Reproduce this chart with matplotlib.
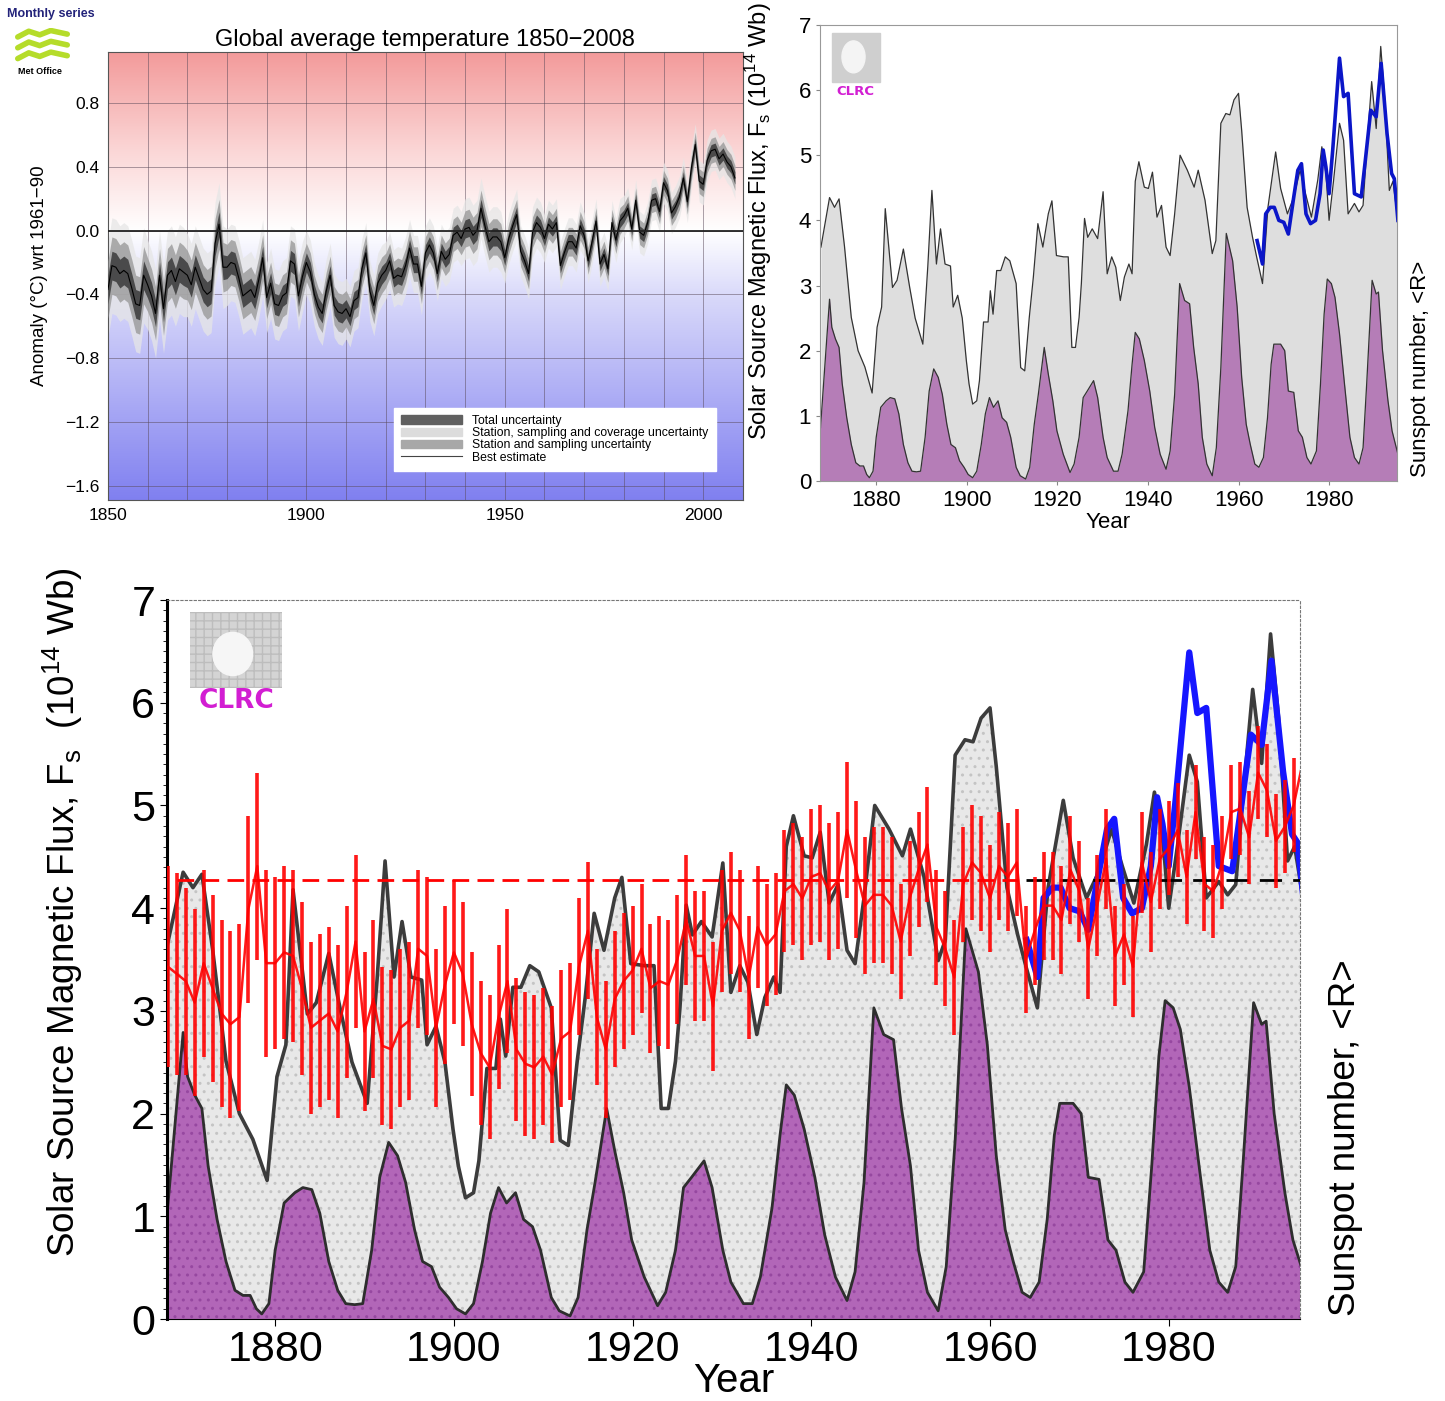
import matplotlib.pyplot as plt
import numpy as np
from matplotlib.colors import LinearSegmentedColormap
from matplotlib.patches import Patch, Rectangle, Ellipse
from matplotlib.lines import Line2D

plt.rcParams['font.family'] = ['Liberation Sans', 'DejaVu Sans']

# ---- global temperature (annual means)
temp_years = np.arange(1850, 2009)
temp_anom = [
    -0.37, -0.22, -0.23, -0.27, -0.25, -0.27, -0.36, -0.46, -0.47, -0.28,
    -0.34, -0.41, -0.52, -0.28, -0.49, -0.28, -0.25, -0.32, -0.24, -0.26,
    -0.28, -0.34, -0.23, -0.30, -0.37, -0.40, -0.38, -0.08, 0.04, -0.23,
    -0.23, -0.20, -0.21, -0.30, -0.41, -0.39, -0.37, -0.42, -0.31, -0.17,
    -0.42, -0.33, -0.46, -0.47, -0.41, -0.39, -0.19, -0.21, -0.41, -0.29,
    -0.20, -0.26, -0.40, -0.48, -0.52, -0.38, -0.28, -0.47, -0.51, -0.52,
    -0.49, -0.54, -0.44, -0.42, -0.24, -0.14, -0.38, -0.47, -0.33, -0.28,
    -0.25, -0.19, -0.30, -0.28, -0.29, -0.22, -0.11, -0.21, -0.21, -0.35,
    -0.14, -0.09, -0.14, -0.27, -0.13, -0.18, -0.15, -0.03, -0.01, -0.05,
    0.01, 0.02, -0.03, 0.00, 0.14, 0.03, -0.07, -0.04, -0.04, -0.07,
    -0.17, -0.05, 0.03, 0.10, -0.13, -0.19, -0.27, -0.01, 0.05, 0.02,
    -0.05, 0.04, 0.01, 0.05, -0.22, -0.14, -0.07, -0.07, -0.11, 0.03,
    -0.03, -0.19, -0.07, 0.06, -0.21, -0.15, -0.24, 0.05, -0.06, 0.06,
    0.09, 0.14, 0.01, 0.19, -0.01, -0.03, 0.05, 0.19, 0.20, 0.12,
    0.30, 0.25, 0.11, 0.15, 0.21, 0.33, 0.18, 0.39, 0.54, 0.31,
    0.29, 0.44, 0.50, 0.51, 0.45, 0.48, 0.43, 0.40, 0.33,
]
# half-width of total uncertainty for each decade 1850s..2000s
unc_decade = [0.30, 0.28, 0.26, 0.24, 0.22, 0.20, 0.19, 0.18, 0.17, 0.19,
              0.16, 0.15, 0.14, 0.13, 0.13, 0.13]

# ---- solar source magnetic flux (1e14 Wb)
flux_years = [1867.8, 1869.7, 1870.8, 1871.8, 1873.0, 1874.5, 1876.0, 1877.5,
              1879.1, 1880.2, 1881.2, 1882.0, 1883.6, 1884.6, 1886.0, 1887.4,
              1888.6, 1890.3, 1891.4, 1892.3, 1893.3, 1894.2, 1895.2, 1896.4,
              1897.0, 1898.0, 1899.0, 1899.9, 1900.5, 1901.3, 1902.2, 1902.8,
              1903.7, 1904.7, 1905.2, 1905.8, 1906.6, 1907.5, 1908.5, 1909.5,
              1910.9, 1911.9, 1912.8, 1913.8, 1914.7, 1915.7, 1916.8, 1918.0,
              1918.8, 1919.8, 1921.4, 1922.4, 1923.2, 1924.0, 1924.8, 1925.3,
              1926.0, 1926.7, 1927.7, 1928.9, 1930.1, 1931.0, 1932.0, 1932.9,
              1933.9, 1934.8, 1935.8, 1936.5, 1937.2, 1938.0, 1939.2, 1940.1,
              1941.0, 1942.0, 1943.0, 1944.0, 1944.9, 1945.9, 1947.1, 1948.7,
              1950.2, 1951.1, 1952.6, 1954.2, 1955.0, 1956.1, 1957.2, 1958.1,
              1959.0, 1960.0, 1960.7, 1961.9, 1963.1, 1964.0, 1965.3, 1966.5,
              1968.2, 1969.3, 1970.8, 1972.2, 1973.6, 1974.8, 1976.1, 1977.5,
              1978.4, 1979.3, 1980.0, 1981.0, 1982.3, 1983.2, 1984.2, 1985.6,
              1986.6, 1987.5, 1988.3, 1989.4, 1990.4, 1991.4, 1992.3, 1993.3,
              1994.1, 1995.2]
flux = [3.59, 4.35, 4.20, 4.33, 3.60, 2.51, 2.00, 1.75,
        1.35, 2.36, 2.67, 4.18, 2.97, 3.08, 3.56, 2.97,
        2.50, 2.10, 3.30, 4.46, 3.33, 3.87, 3.33, 3.30,
        2.67, 2.85, 2.50, 1.85, 1.49, 1.18, 1.23, 1.54,
        2.44, 2.44, 2.92, 2.56, 3.23, 3.23, 3.44, 3.38,
        3.03, 1.74, 1.69, 2.51, 3.13, 3.95, 3.59, 4.10,
        4.30, 3.46, 3.44, 3.44, 2.05, 2.05, 2.51, 3.03,
        4.03, 3.74, 3.87, 3.72, 4.44, 3.18, 3.44, 3.28,
        2.77, 3.13, 3.33, 3.18, 4.60, 4.90, 4.51, 4.49,
        4.74, 4.05, 4.23, 3.59, 3.46, 4.10, 5.00, 4.77,
        4.51, 4.77, 4.31, 3.49, 3.69, 5.49, 5.64, 5.62,
        5.85, 5.95, 5.38, 4.20, 3.74, 3.44, 3.03, 4.20,
        5.05, 4.49, 4.10, 4.36, 4.77, 4.41, 4.05, 4.62,
        5.13, 4.72, 4.00, 4.62, 5.49, 5.23, 4.10, 4.26,
        4.13, 4.23, 5.08, 6.13, 5.41, 6.67, 5.85, 4.46,
        4.60, 4.00]

# ---- recent flux estimate (blue)
blue_years = [1964.1, 1965.3, 1966.0, 1967.0, 1967.9, 1968.9, 1970.0, 1971.0,
              1972.2, 1973.1, 1973.9, 1974.9, 1975.9, 1977.0, 1978.0, 1978.7,
              1979.3, 1980.0, 1980.8, 1982.3, 1983.2, 1984.2, 1985.6, 1987.1,
              1988.0, 1989.2, 1990.4, 1991.5, 1992.8, 1993.8, 1994.4, 1995.2]
blue_flux = [3.69, 3.33, 4.10, 4.20, 4.20, 4.00, 3.97, 3.79,
             4.36, 4.77, 4.87, 4.10, 3.95, 4.00, 4.41, 5.08,
             4.82, 4.41, 5.08, 6.49, 5.90, 5.95, 4.41, 4.36,
             4.92, 5.69, 5.59, 6.41, 5.33, 4.72, 4.64, 4.00]

# ---- sunspot number, drawn on the flux scale
ssn_years = [1867.7, 1869.7, 1870.2, 1871.0, 1871.8, 1872.5, 1873.5, 1874.5,
             1875.5, 1876.4, 1877.2, 1877.9, 1878.5, 1879.3, 1880.0, 1881.0,
             1882.2, 1883.1, 1884.1, 1885.0, 1886.0, 1887.0, 1887.9, 1888.9,
             1889.8, 1890.8, 1891.7, 1892.7, 1893.7, 1894.6, 1895.6, 1896.5,
             1897.5, 1898.4, 1899.4, 1900.3, 1901.3, 1902.2, 1903.2, 1904.1,
             1905.0, 1905.9, 1906.9, 1907.8, 1908.8, 1909.7, 1910.9, 1911.8,
             1913.0, 1913.9, 1914.9, 1915.8, 1917.1, 1918.0, 1919.0, 1919.9,
             1921.3, 1922.8, 1923.7, 1924.8, 1925.7, 1926.6, 1928.0, 1928.9,
             1930.1, 1931.0, 1932.4, 1933.4, 1934.3, 1935.6, 1936.5, 1937.2,
             1938.1, 1939.2, 1940.4, 1941.5, 1942.7, 1944.0, 1944.9, 1945.9,
             1947.0, 1948.1, 1949.2, 1950.1, 1951.1, 1952.0, 1953.0, 1954.2,
             1955.1, 1956.1, 1957.3, 1958.7, 1959.7, 1960.7, 1961.7, 1962.6,
             1963.6, 1964.5, 1965.5, 1966.4, 1967.2, 1967.8, 1969.3, 1970.2,
             1971.0, 1972.2, 1973.2, 1974.1, 1975.1, 1976.0, 1977.2, 1978.1,
             1978.9, 1979.6, 1980.5, 1981.3, 1982.3, 1983.4, 1984.6, 1985.6,
             1986.6, 1987.5, 1988.3, 1989.5, 1990.4, 1990.9, 1991.8, 1993.0,
             1993.9, 1995.2]
ssn = [0.82, 2.79, 2.36, 2.18, 2.05, 1.49, 0.97, 0.56,
       0.28, 0.23, 0.23, 0.10, 0.05, 0.15, 0.67, 1.13,
       1.23, 1.28, 1.26, 1.03, 0.56, 0.28, 0.15, 0.14,
       0.15, 0.67, 1.38, 1.72, 1.59, 1.33, 0.87, 0.56,
       0.51, 0.31, 0.21, 0.10, 0.05, 0.15, 0.56, 1.03,
       1.28, 1.13, 1.23, 0.97, 0.90, 0.67, 0.21, 0.08,
       0.03, 0.21, 0.87, 1.33, 2.05, 1.64, 1.23, 0.77,
       0.41, 0.13, 0.26, 0.67, 1.28, 1.38, 1.54, 1.28,
       0.67, 0.36, 0.15, 0.15, 0.41, 1.08, 1.79, 2.28,
       2.18, 1.85, 1.38, 0.82, 0.41, 0.18, 0.46, 1.33,
       3.03, 2.77, 2.72, 2.05, 1.49, 0.67, 0.26, 0.08,
       0.51, 1.74, 3.80, 3.38, 2.67, 1.59, 0.87, 0.56,
       0.26, 0.21, 0.36, 0.97, 1.79, 2.10, 2.10, 2.00,
       1.38, 1.36, 0.77, 0.67, 0.36, 0.26, 0.46, 1.49,
       2.56, 3.10, 3.03, 2.82, 2.26, 1.49, 0.67, 0.36,
       0.26, 0.51, 1.49, 3.08, 2.87, 2.90, 2.00, 1.23,
       0.77, 0.41]

unc_total = np.repeat(unc_decade, 10)[:len(temp_years)]
temp = np.array(temp_anom)

fig = plt.figure(figsize=(14.45, 14.01), dpi=100)

# ================= top left: global temperature =================
ax1 = fig.add_axes([0.0747, 0.6431, 0.4394, 0.3198])
ylo, yhi = -1.69, 1.12
bg = LinearSegmentedColormap.from_list(
    'bg', [(0, '#8080f0'), (0.45, '#d8d8fa'), (0.60, '#ffffff'),
           (0.78, '#fbd6d6'), (1, '#f39a9a')])
ax1.imshow(np.linspace(0, 1, 256).reshape(-1, 1), extent=[1850, 2010, ylo, yhi],
           origin='lower', aspect='auto', cmap=bg, zorder=0)
ax1.set_xlim(1850, 2010)
ax1.set_ylim(ylo, yhi)
ax1.set_xticks([1850, 1900, 1950, 2000])
ax1.set_xticks(np.arange(1850, 2011, 10), minor=True)
ax1.set_yticks([-1.6, -1.2, -0.8, -0.4, 0.0, 0.4, 0.8])
ax1.set_yticklabels(['\u22121.6', '\u22121.2', '\u22120.8', '\u22120.4', '0.0', '0.4', '0.8'])
ax1.grid(which='both', color='#5a4a5a', lw=0.6, alpha=0.6, zorder=1)
ax1.tick_params(which='both', length=0, labelsize=12.5, pad=6)
ax1.fill_between(temp_years, temp - unc_total, temp + unc_total,
                 color='#e6e6e6', alpha=0.75, lw=0, zorder=2)
ax1.fill_between(temp_years, temp - 0.6 * unc_total, temp + 0.6 * unc_total,
                 color='#9a9a9a', alpha=0.8, lw=0, zorder=3)
ax1.fill_between(temp_years, temp - 0.3 * unc_total, temp + 0.3 * unc_total,
                 color='#3a3a3a', alpha=0.85, lw=0, zorder=4)
ax1.plot(temp_years, temp, color='black', lw=0.8, zorder=5)
ax1.axhline(0, color='#222222', lw=1.3, zorder=6)
for s in ax1.spines.values():
    s.set_color('#555555')
ax1.set_title('Global average temperature 1850\u22122008', fontsize=17, pad=4)
ax1.set_ylabel('Anomaly (\u00b0C) wrt 1961\u221290', fontsize=13.5)
ax1.yaxis.set_label_coords(-0.095, 0.5)
handles = [Patch(color='#606060'), Patch(color='#dcdcdc'), Patch(color='#a8a8a8'),
           Line2D([], [], color='#444444', lw=0.8)]
labels = ['Total uncertainty', 'Station, sampling and coverage uncertainty',
          'Station and sampling uncertainty', 'Best estimate']
leg = ax1.legend(handles, labels, loc='lower right', bbox_to_anchor=(0.967, 0.051),
                 fontsize=8.8, handlelength=5, labelspacing=0.02, borderpad=0.6,
                 fancybox=False, framealpha=1, edgecolor='white')
leg.set_zorder(10)

fig.text(0.005, 0.994, 'Monthly series', fontsize=9, fontweight='bold',
         color='#23237a', va='top')
logo = fig.add_axes([15 / 1445, 1 - 64 / 1401, 55 / 1445, 36 / 1401])
logo.set_xlim(0, 10)
logo.set_ylim(0, 10)
logo.axis('off')
for yy in [1.5, 4.5, 7.5]:
    logo.plot([0.5, 2.5, 4.5, 6.5, 9.5], [yy, yy + 1.6, yy + 0.6, yy + 1.8, yy + 0.8],
              color='#b5dc2a', lw=4, solid_capstyle='round')
fig.text(40 / 1445, 1 - 72 / 1401, 'Met Office', fontsize=6.5, fontweight='bold',
         ha='center', va='center')

# ================= top right: solar flux =================
ax2 = fig.add_axes([0.5675, 0.6567, 0.3993, 0.3255])
ax2.set_xlim(1867.6, 1995)
ax2.set_ylim(0, 7)
ax2.fill_between(flux_years, 0, flux, color='#dedede', lw=0)
ax2.plot(flux_years, flux, color='#333333', lw=0.9)
ax2.fill_between(ssn_years, 0, ssn, color='#b57db7', lw=0)
ax2.plot(ssn_years, ssn, color='#333333', lw=0.9)
ax2.plot(blue_years, blue_flux, color='#0b16c8', lw=2.6)
ax2.set_xticks([1880, 1900, 1920, 1940, 1960, 1980])
ax2.set_yticks(range(8))
ax2.tick_params(labelsize=16, length=3, color='#888888')
for s in ax2.spines.values():
    s.set_color('#999999')
ax2.set_xlabel('Year', fontsize=16, labelpad=1)
ax2.set_ylabel('Solar Source Magnetic Flux, F$_\\mathregular{s}$ (10$^\\mathregular{14}$ Wb)',
               fontsize=17)
ax2.yaxis.set_label_coords(-0.08, 0.57)
fig.text(0.983, 0.737, 'Sunspot number, <R>', rotation=90, fontsize=16,
         ha='center', va='center')
ax2.add_patch(Rectangle((0.021, 0.875), 0.083, 0.107, transform=ax2.transAxes,
                        color='#cfcfcf', zorder=5))
ax2.add_patch(Ellipse((0.058, 0.93), 0.04, 0.07, transform=ax2.transAxes,
                      color='#f4f4f4', zorder=6))
ax2.text(0.062, 0.855, 'CLRC', transform=ax2.transAxes, fontsize=9.5,
         fontweight='bold', family='DejaVu Sans', color='#d21ed2',
         ha='center', va='center', zorder=6)

# ================= bottom: flux with temperature overlay =================
ax3 = fig.add_axes([0.1156, 0.0585, 0.7841, 0.5132])
ax3.set_xlim(1867.9, 1994.7)
ax3.set_ylim(0, 7)
ax3.fill_between(flux_years, 0, flux, facecolor='#e8e8e8', hatch='..',
                 edgecolor='#c4c4c4', lw=0)
ax3.plot(flux_years, flux, color='#3c3c3c', lw=2.6)
ax3.fill_between(ssn_years, 0, ssn, facecolor='#b266b8', hatch='..',
                 edgecolor='#9648a0', lw=0)
ax3.plot(ssn_years, ssn, color='#2e2e2e', lw=2.0)
ax3.plot(blue_years, blue_flux, color='#1616ff', lw=4.5)
ax3.set_xticks([1880, 1900, 1920, 1940, 1960, 1980])
ax3.set_yticks(range(8))
ax3.set_yticks(np.arange(0, 7.01, 0.1), minor=True)
ax3.tick_params(labelsize=31, length=5)
ax3.tick_params(axis='y', which='minor', length=3)
ax3.tick_params(axis='x', pad=3)
ax3.spines['left'].set_linewidth(2.2)
for side in ['top', 'right']:
    ax3.spines[side].set_linestyle((0, (2, 2)))
    ax3.spines[side].set_color('#777777')
ax3.set_xlabel('Year', fontsize=29, labelpad=-6)
ax3.set_ylabel('Solar Source Magnetic Flux, F$_\\mathregular{s}$  (10$^\\mathregular{14}$ Wb)',
               fontsize=26.5)
ax3.yaxis.set_label_coords(-0.072, 0.566)
fig.text(0.931, 0.188, 'Sunspot number, <R>', rotation=90, fontsize=26.5,
         ha='center', va='center')
ax3.add_patch(Rectangle((0.020, 0.878), 0.0815, 0.105, transform=ax3.transAxes,
                        facecolor='#d4d4d4', hatch='++', edgecolor='#bdbdbd',
                        lw=0, zorder=5))
ax3.add_patch(Ellipse((0.058, 0.925), 0.035, 0.06, transform=ax3.transAxes,
                      color='#f6f6f6', zorder=6))
ax3.text(0.061, 0.86, 'CLRC', transform=ax3.transAxes, fontsize=19,
         fontweight='heavy', family='DejaVu Sans', color='#d21ed2',
         ha='center', va='center', zorder=6)

ax3t = ax3.twinx()
ax3t.set_ylim(-4.27 / 3.5, 2.73 / 3.5)
ax3t.axis('off')
ax3t.hlines(0, 1869, 1964, colors='red', linestyles=(0, (6, 3)), lw=2)
ax3t.hlines(0, 1964, 1995.2, colors='black', linestyles=(0, (8, 4)), lw=2)
ax3t.errorbar(temp_years, temp, yerr=unc_total, color='red', lw=1.8,
              elinewidth=2.6, capsize=0, alpha=0.9)

fig.savefig('out.png', dpi=100)
